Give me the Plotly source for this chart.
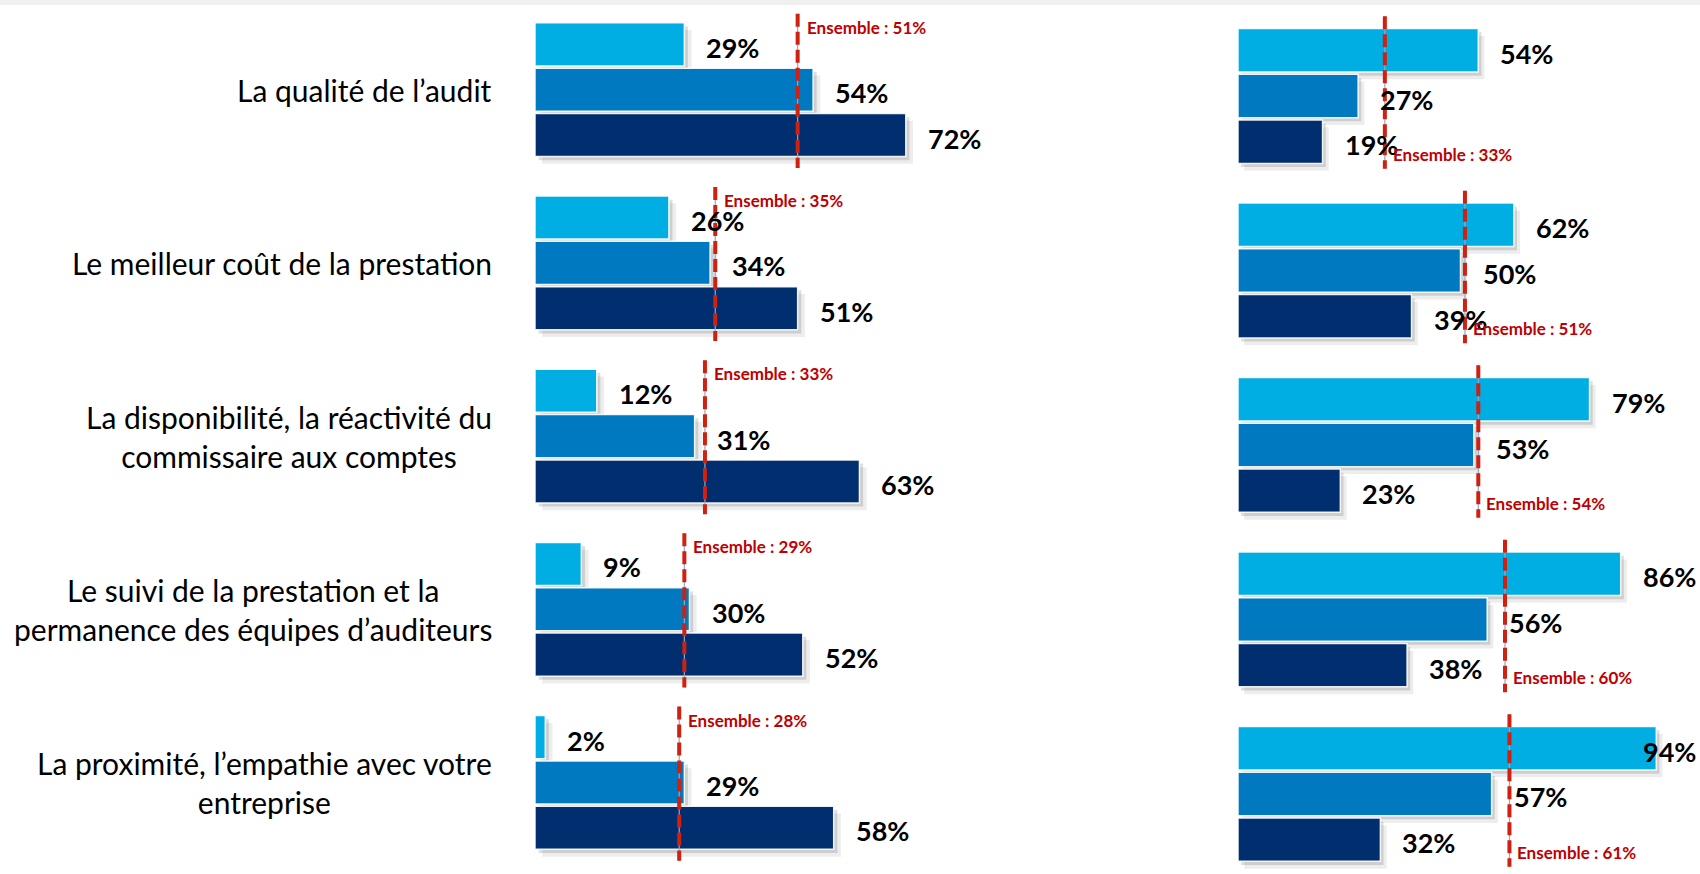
import plotly.graph_objects as go

# ---------------- data ----------------
categories = [
    "La qualité de l’audit",
    "Le meilleur coût de la prestation",
    "La disponibilité, la réactivité du<br>commissaire aux comptes",
    "Le suivi de la prestation et la<br>permanence des équipes d’auditeurs",
    "La proximité, l’empathie avec votre<br>entreprise",
]

left_light = [29, 26, 12, 9, 2]
left_mid = [54, 34, 31, 30, 29]
left_dark = [72, 51, 63, 52, 58]
left_ensemble = [51, 35, 33, 29, 28]

right_light = [54, 62, 79, 86, 94]
right_mid = [27, 50, 53, 56, 57]
right_dark = [19, 39, 23, 38, 32]
right_ensemble = [33, 51, 54, 60, 61]

# ---------------- style ----------------
COLORS = ["#00aee3", "#0079c1", "#002e6e"]
RED_LINE = "#cf2010"
RED_TEXT = "#c00000"
FONT = "Lato, 'Open Sans', sans-serif"
W, H = 1700, 874
GS = 3.82          # group step in bar units
BW = 0.95          # bar thickness


def pos(g, k):
    return g * GS + (k - 1)


fig = go.Figure()

panels = [
    dict(xa="x", ya="y", series=[left_light, left_mid, left_dark], ens=left_ensemble, side="left"),
    dict(xa="x2", ya="y2", series=[right_light, right_mid, right_dark], ens=right_ensemble, side="right"),
]

annotations = []
shapes = []

for p in panels:
    n = len(categories)
    # shadows
    for k, vals in enumerate(p["series"]):
        ys = [pos(g, k) for g in range(n)]
        for dx, dy, a in [(1.4, 0.16, 0.07), (0.7, 0.08, 0.13)]:
            fig.add_trace(go.Bar(
                x=vals, y=[y + dy for y in ys], base=dx, orientation="h", width=BW,
                marker=dict(color=f"rgba(0,0,0,{a})", line=dict(width=0)),
                xaxis=p["xa"], yaxis=p["ya"], hoverinfo="skip", showlegend=False))
    # bars
    for k, vals in enumerate(p["series"]):
        ys = [pos(g, k) for g in range(n)]
        fig.add_trace(go.Bar(
            x=vals, y=ys, orientation="h", width=BW,
            marker=dict(color=COLORS[k], line=dict(color="rgba(255,255,255,0.9)", width=1.5)),
            xaxis=p["xa"], yaxis=p["ya"], showlegend=False,
            hovertemplate="%{x}%<extra></extra>"))
        for g, v in enumerate(vals):
            txt = f"{v}%"
            if p["side"] == "right" and v > 90:
                annotations.append(dict(
                    x=0.999, xref="paper", y=ys[g], yref=p["ya"], text=txt,
                    xanchor="right", yanchor="middle", yshift=-3, showarrow=False,
                    font=dict(family=FONT, size=27, color="#000000", weight="bold")))
            else:
                annotations.append(dict(
                    x=v, xref=p["xa"], y=ys[g], yref=p["ya"], text=txt,
                    xanchor="left", yanchor="middle", xshift=20, yshift=-3, showarrow=False,
                    font=dict(family=FONT, size=27, color="#000000", weight="bold")))
    # ensemble lines and labels
    for g, e in enumerate(p["ens"]):
        top = pos(g, 0) - BW / 2
        bot = pos(g, 2) + BW / 2
        if p["side"] == "left":
            y0, y1 = top - 0.2, bot + 0.25
            ly, xs = top + 0.1, 7
        else:
            y0, y1 = top - 0.27, bot + 0.12
            ly, xs = bot - 0.2, 6
        shapes.append(dict(type="line", xref=p["xa"], yref=p["ya"], x0=e, x1=e, y0=y0, y1=y1,
                           line=dict(color="#86acd4", width=1.2), layer="above"))
        shapes.append(dict(type="line", xref=p["xa"], yref=p["ya"], x0=e, x1=e, y0=y0, y1=y1,
                           line=dict(color=RED_LINE, width=4, dash="13px,5px"), layer="above"))
        annotations.append(dict(
            x=e, xref=p["xa"], y=ly, yref=p["ya"], text=f"Ensemble : {e}%",
            xanchor="left", yanchor="middle", xshift=xs, showarrow=False,
            font=dict(family=FONT, size=17, color=RED_TEXT, weight="bold")))

# category labels
for g, c in enumerate(categories):
    annotations.append(dict(
        x=494 / W, xref="paper", y=pos(g, 1), yref="y", text=c,
        xanchor="right", yanchor="middle", align="center", showarrow=False,
        font=dict(family=FONT, size=30, color="#000000")))

# thin grey strip at the top of the slide
shapes.append(dict(type="rect", xref="paper", yref="paper", x0=0, x1=1, y0=1 - 5 / H, y1=1,
                   fillcolor="#f0f0f0", line=dict(width=0), layer="below"))

axis_off = dict(visible=False, showgrid=False, zeroline=False, fixedrange=True)

fig.update_layout(
    width=W, height=H, margin=dict(l=0, r=0, t=0, b=0),
    paper_bgcolor="white", plot_bgcolor="rgba(0,0,0,0)",
    barmode="overlay", showlegend=False,
    xaxis=dict(domain=[535 / W, (535 + 515) / W], range=[0, 100], **axis_off),
    xaxis2=dict(domain=[1238 / W, (1238 + 445) / W], range=[0, 100], **axis_off),
    yaxis=dict(domain=[0, 1], range=[(H - 89.7) / 45.34, -89.7 / 45.34], anchor="x", **axis_off),
    yaxis2=dict(domain=[0, 1], range=[(H - 96) / 45.68, -96 / 45.68], anchor="x2", **axis_off),
    annotations=annotations, shapes=shapes,
)

fig.write_html("out.html", config={"displayModeBar": False},
               post_script="document.body.style.margin='0';document.body.style.overflow='hidden';")
